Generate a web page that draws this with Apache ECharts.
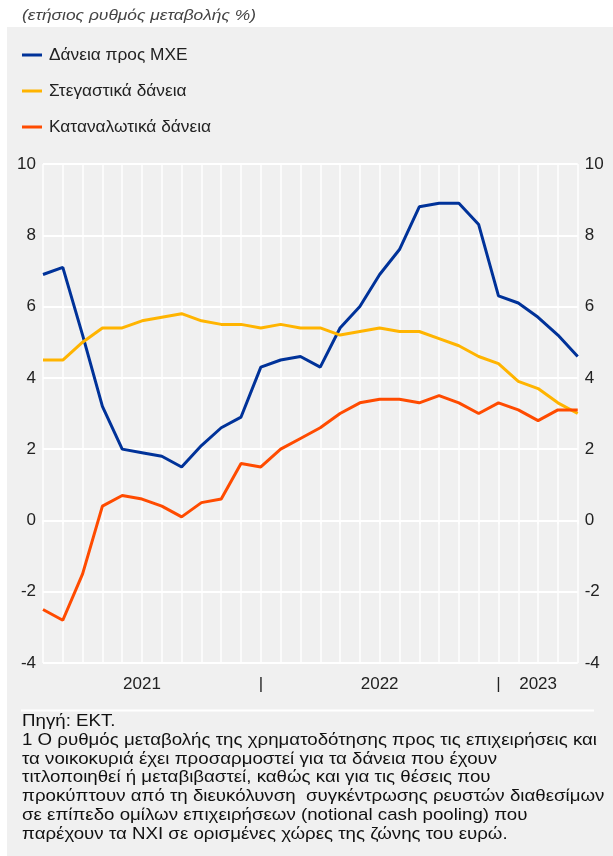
<!DOCTYPE html>
<html>
<head>
<meta charset="utf-8">
<script src="https://cdn.jsdelivr.net/npm/echarts@6/dist/echarts.min.js"></script>
<style>
html,body{margin:0;padding:0;background:#fff;}
#c{width:613px;height:856px;}
</style>
</head>
<body>
<div id="c"></div>
<script>
// Monthly observations (28 points)
const categories = ["0","1","2","3","4","5","6","7","8","9","10","11","12","13","14","15","16","17","18","19","20","21","22","23","24","25","26","27"];
const axisLabels = {5:"2021", 11:"|", 17:"2022", 23:"|", 25:"2023"};
const smeLoans = [6.9,7.1,5.2,3.2,2.0,1.9,1.8,1.5,2.1,2.6,2.9,4.3,4.5,4.6,4.3,5.4,6.0,6.9,7.6,8.8,8.9,8.9,8.3,6.3,6.1,5.7,5.2,4.6];
const housingLoans = [4.5,4.5,5.0,5.4,5.4,5.6,5.7,5.8,5.6,5.5,5.5,5.4,5.5,5.4,5.4,5.2,5.3,5.4,5.3,5.3,5.1,4.9,4.6,4.4,3.9,3.7,3.3,3.0];
const consumerLoans = [-2.5,-2.8,-1.5,0.4,0.7,0.6,0.4,0.1,0.5,0.6,1.6,1.5,2.0,2.3,2.6,3.0,3.3,3.4,3.4,3.3,3.5,3.3,3.0,3.3,3.1,2.8,3.1,3.1];
const seriesNames = ["Δάνεια προς ΜΧΕ","Στεγαστικά δάνεια","Καταναλωτικά δάνεια"];
const titleText = "(ετήσιος ρυθμός μεταβολής %)";
const footnote = [
 "Πηγή: ΕΚΤ.",
 "1 Ο ρυθμός μεταβολής της χρηματοδότησης προς τις επιχειρήσεις και",
 "τα νοικοκυριά έχει προσαρμοστεί για τα δάνεια που έχουν",
 "τιτλοποιηθεί ή μεταβιβαστεί, καθώς και για τις θέσεις που",
 "προκύπτουν από τη διευκόλυνση  συγκέντρωσης ρευστών διαθεσίμων",
 "σε επίπεδο ομίλων επιχειρήσεων (notional cash pooling) που",
 "παρέχουν τα ΝΧΙ σε ορισμένες χώρες της ζώνης του ευρώ."
];

const FONT = "'Liberation Sans', Arial, sans-serif";
const colors = ['#003299','#ffb400','#ff4b00'];

// measure helper for horizontal text fitting
const mctx = document.createElement('canvas').getContext('2d');
function measure(t, size, style){ mctx.font = (style||'') + ' ' + size + 'px ' + FONT; return mctx.measureText(t).width; }

const titleSize = 15;
const titleScale = 234 / measure(titleText, titleSize, 'italic');
const legSize = 16.5;
const legScale = 162 / measure(seriesNames[2], legSize);
const footSize = 17;
const footScale = 575 / measure(footnote[1], footSize);

const graphics = [
  {type:'rect', z:-10, shape:{x:7,y:27,width:606,height:829}, style:{fill:'#f0f0f0'}, silent:true},
  {type:'rect', z:-5, shape:{x:21,y:709.5,width:573,height:2}, style:{fill:'#ffffff'}, silent:true},
  {type:'text', x:22, y:16, scaleX:titleScale, style:{text:titleText, fill:'#444', fontSize:titleSize, fontStyle:'italic', fontFamily:FONT, verticalAlign:'middle', align:'left'}},
  {type:'text', x:22, y:712, scaleX:footScale, style:{text:footnote.join('\n'), fill:'#111', fontSize:footSize, lineHeight:18.8, fontFamily:FONT, verticalAlign:'top', align:'left'}}
];
seriesNames.forEach((n,i)=>{
  const yy = 55 + i*36;
  graphics.push({type:'line', shape:{x1:22,y1:yy,x2:42,y2:yy}, style:{stroke:colors[i], lineWidth:3}});
  graphics.push({type:'text', x:49, y:yy, scaleX:legScale, style:{text:n, fill:'#222', fontSize:legSize, fontFamily:FONT, verticalAlign:'middle', align:'left'}});
});

const chart = echarts.init(document.getElementById('c'), null, {renderer:'canvas'});
const yAxisBase = {
  type:'value', min:-4, max:10, interval:2,
  axisLine:{show:false}, axisTick:{show:false},
  axisLabel:{color:'#222', fontSize:17, fontFamily:FONT, margin:7}
};
chart.setOption({
  backgroundColor:'#ffffff',
  animation:false,
  graphic:graphics,
  grid:{left:43, right:35.3, top:164, bottom:193, containLabel:false},
  xAxis:{
    type:'category', data:categories, boundaryGap:false,
    axisLine:{show:true, lineStyle:{color:'#ffffff', width:2}},
    axisTick:{show:true, interval:0, length:4, lineStyle:{color:'#ffffff', width:1.5}},
    splitLine:{show:true, interval:0, lineStyle:{color:'#ffffff', width:1.5}},
    axisLabel:{interval:0, color:'#222', fontSize:17, fontFamily:FONT, margin:13,
      formatter:(v,i)=> axisLabels[i] !== undefined ? axisLabels[i] : ''}
  },
  yAxis:[
    Object.assign({}, yAxisBase, {position:'left', splitLine:{show:true, lineStyle:{color:'#ffffff', width:2}}}),
    Object.assign({}, yAxisBase, {position:'right', splitLine:{show:false}})
  ],
  series:[
    {name:seriesNames[0], type:'line', data:smeLoans, symbol:'none', lineStyle:{width:3, color:colors[0]}, itemStyle:{color:colors[0]}},
    {name:seriesNames[1], type:'line', data:housingLoans, symbol:'none', lineStyle:{width:3, color:colors[1]}, itemStyle:{color:colors[1]}},
    {name:seriesNames[2], type:'line', data:consumerLoans, symbol:'none', lineStyle:{width:3, color:colors[2]}, itemStyle:{color:colors[2]}}
  ]
});
</script>
</body>
</html>
